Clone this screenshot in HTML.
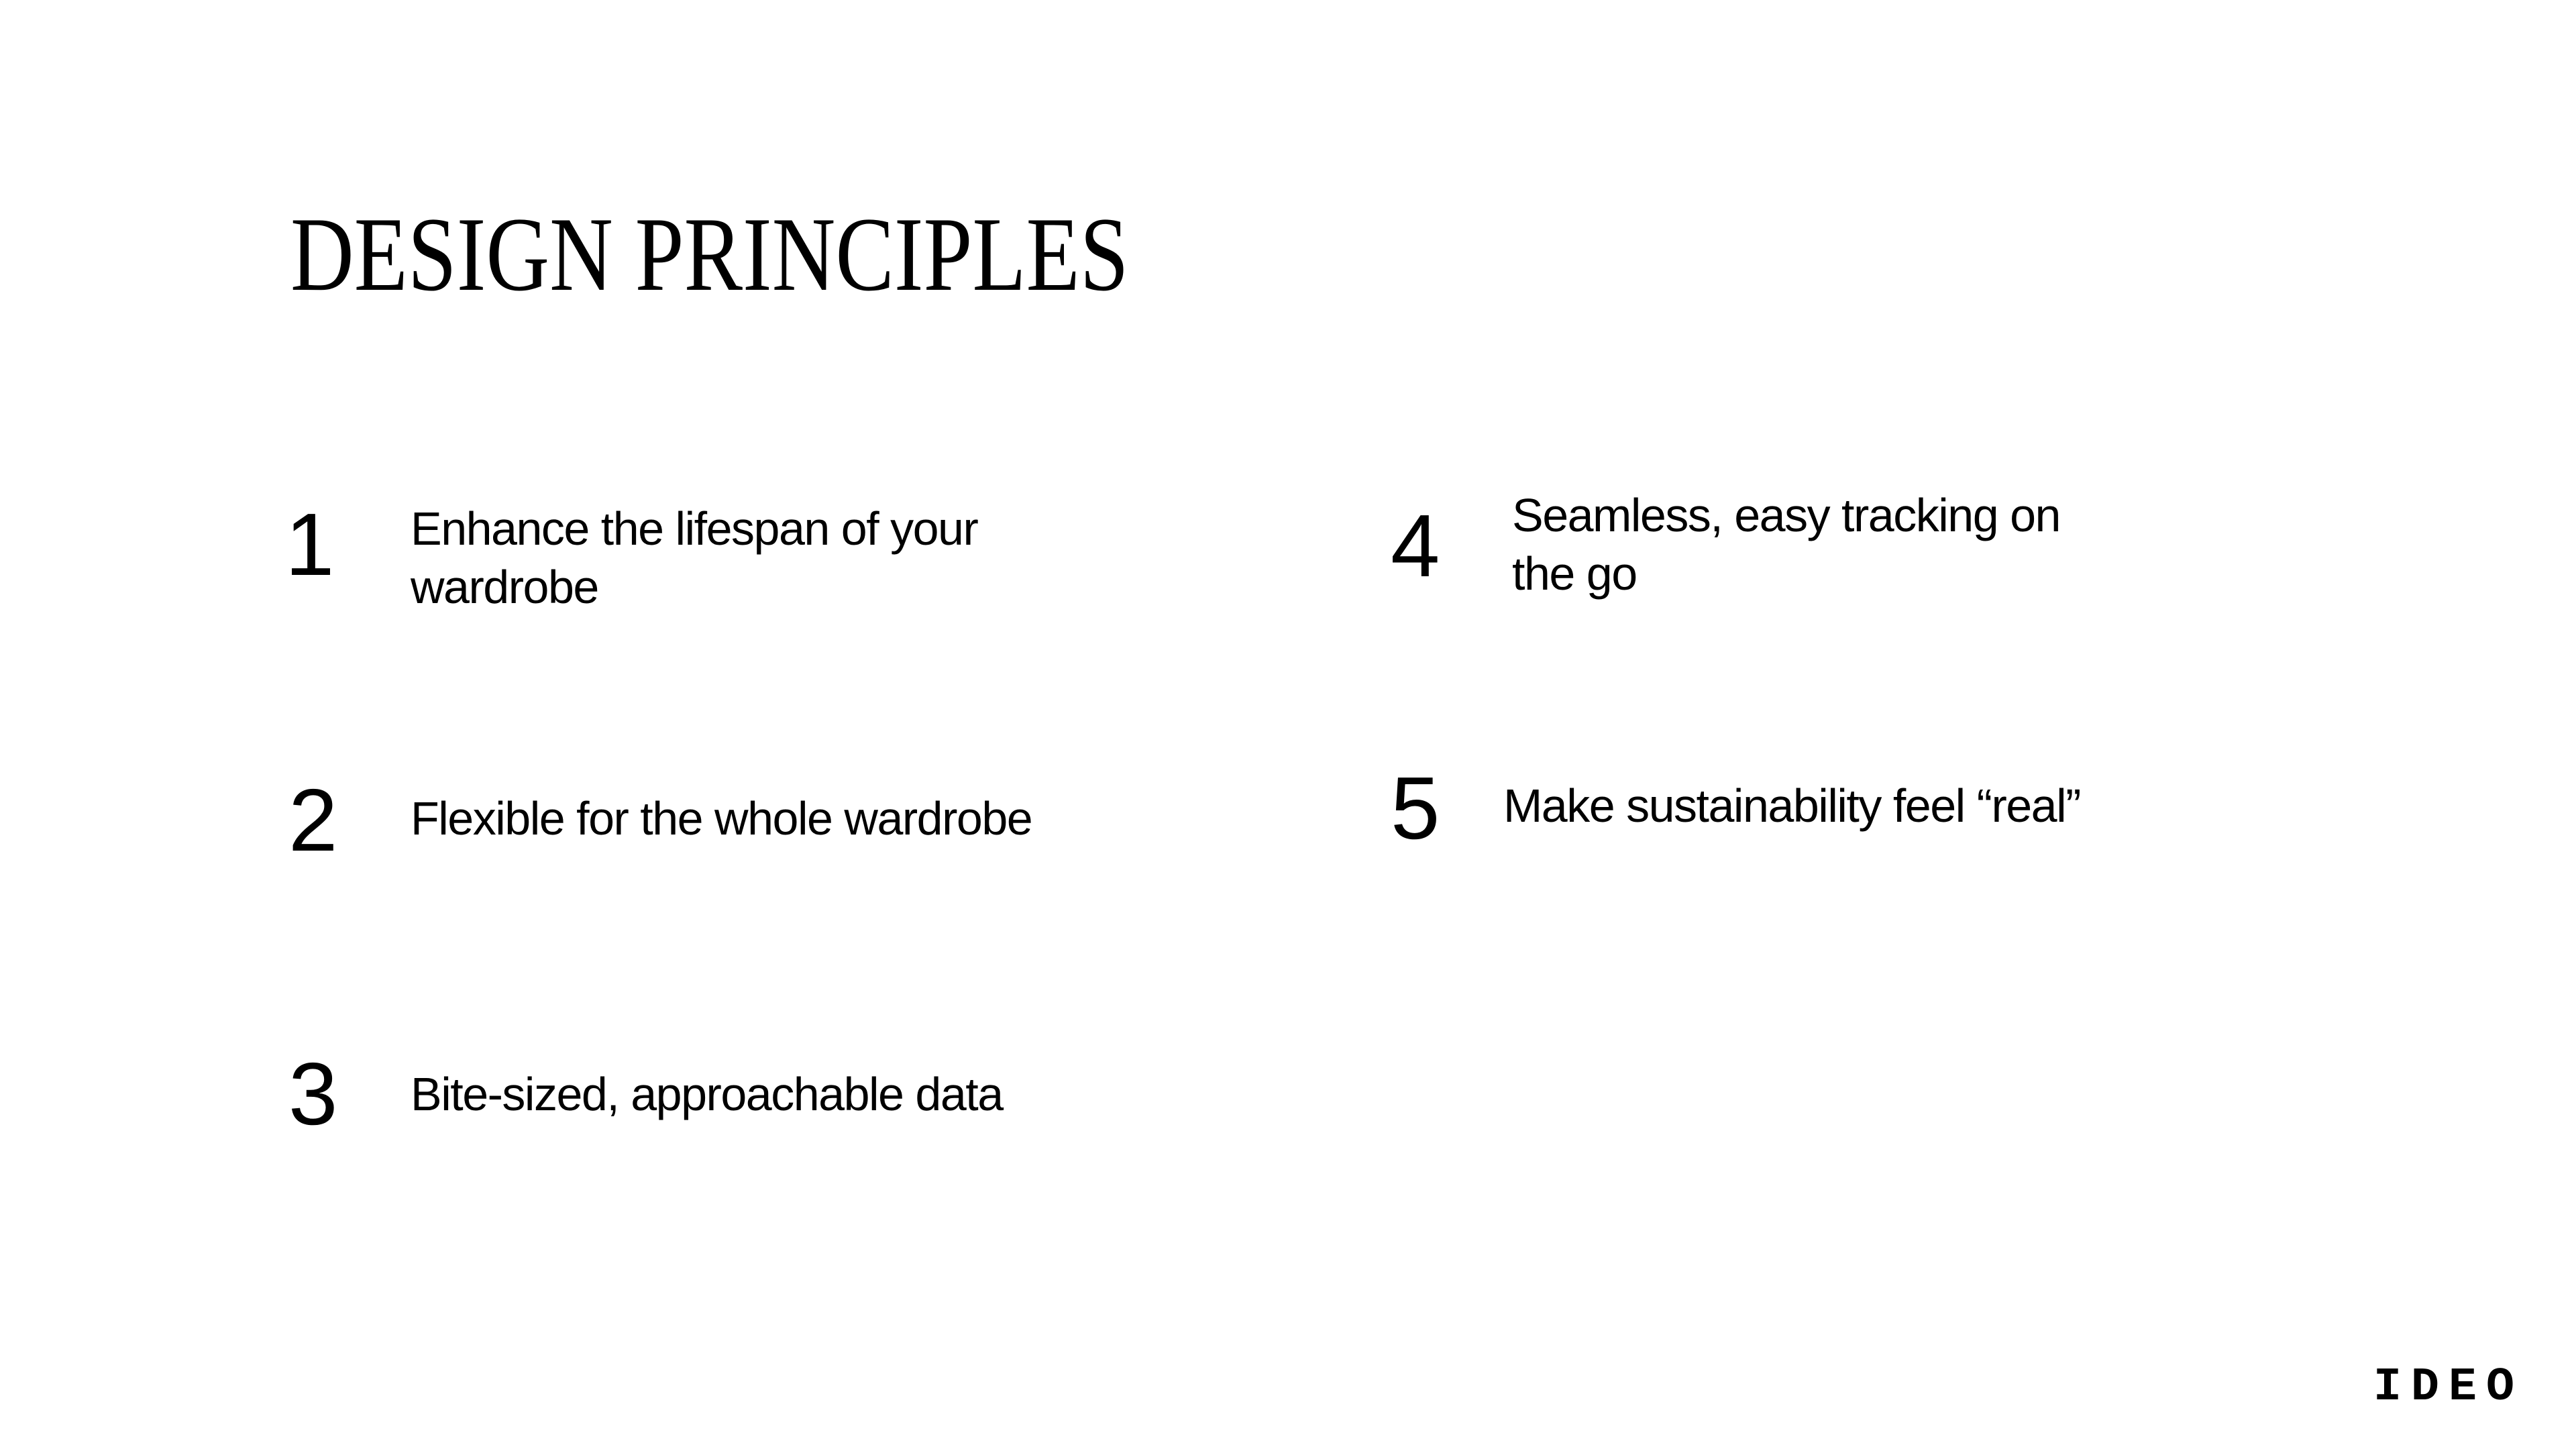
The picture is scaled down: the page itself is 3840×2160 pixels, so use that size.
<!DOCTYPE html>
<html><head><meta charset="utf-8"><style>
html,body{margin:0;padding:0;background:#fff;}
body{width:3840px;height:2160px;position:relative;overflow:hidden;color:#000;}
.a{position:absolute;white-space:nowrap;line-height:1;}
.t{font-family:"Liberation Serif",serif;font-size:158px;transform-origin:0 0;transform:scaleX(0.83);left:433px;top:301px;}
.n{font-family:"Liberation Sans",sans-serif;font-size:132px;}
.x{font-family:"Liberation Sans",sans-serif;font-size:70px;letter-spacing:-1.5px;line-height:87px;}
.logo{font-family:"Liberation Mono",monospace;font-weight:bold;font-size:70px;letter-spacing:14px;left:3538px;top:2034px;}
</style></head><body>
<div class="a t">DESIGN PRINCIPLES</div>

<div class="a n" style="left:425px;top:746px;">1</div>
<div class="a x" style="left:612px;top:745px;">Enhance the lifespan of your<br>wardrobe</div>

<div class="a n" style="left:430px;top:1157px;">2</div>
<div class="a x" style="left:612px;top:1177px;">Flexible for the whole wardrobe</div>

<div class="a n" style="left:430px;top:1565px;">3</div>
<div class="a x" style="left:612px;top:1588px;">Bite-sized, approachable data</div>

<div class="a n" style="left:2073px;top:748px;">4</div>
<div class="a x" style="left:2254px;top:725px;">Seamless, easy tracking on<br>the go</div>

<div class="a n" style="left:2073px;top:1139px;">5</div>
<div class="a x" style="left:2241px;top:1158px;">Make sustainability feel “real”</div>

<div class="a logo">IDEO</div>
</body></html>
